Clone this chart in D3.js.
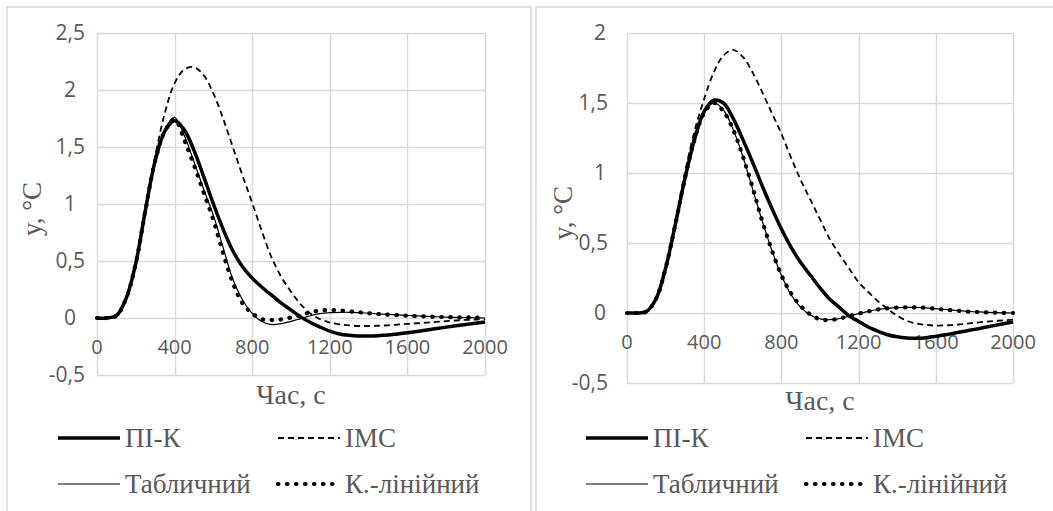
<!DOCTYPE html>
<html>
<head>
<meta charset="utf-8">
<script src="https://cdn.jsdelivr.net/npm/d3@7"></script>
<style>
  body { margin: 0; background: #fff; }
</style>
</head>
<body>
<div id="chart"></div>
<script>
// time, s
var time = [0, 50, 100, 150, 200, 250, 300, 350, 400, 450, 500, 550, 600, 650, 700, 750, 800,
    850, 900, 950, 1000, 1050, 1100, 1150, 1200, 1250, 1300, 1350, 1400, 1450, 1500, 1550, 1600,
    1650, 1700, 1750, 1800, 1850, 1900, 1950, 2000];

// left chart
var leftPIK = [0, 0, 0.02, 0.17, 0.48, 0.95, 1.38, 1.64, 1.73, 1.65, 1.47, 1.24, 1.0, 0.78, 0.59,
    0.45, 0.35, 0.27, 0.2, 0.13, 0.07, 0.01, -0.04, -0.08, -0.115, -0.14, -0.152, -0.158, -0.158,
    -0.155, -0.15, -0.14, -0.13, -0.118, -0.105, -0.093, -0.08, -0.068, -0.057, -0.046, -0.035];
var leftIMC = [0, 0, 0.02, 0.17, 0.48, 0.97, 1.42, 1.8, 2.06, 2.18, 2.2, 2.13, 1.97, 1.75, 1.5,
    1.25, 1.01, 0.76, 0.53, 0.36, 0.23, 0.12, 0.04, -0.01, -0.04, -0.055, -0.065, -0.07, -0.07,
    -0.068, -0.064, -0.058, -0.052, -0.046, -0.04, -0.034, -0.028, -0.022, -0.017, -0.013, -0.01];
var leftTab = [0, 0, 0.02, 0.17, 0.48, 0.95, 1.38, 1.66, 1.76, 1.6, 1.37, 1.13, 0.9, 0.62, 0.34,
    0.16, 0.04, -0.03, -0.058, -0.05, -0.03, -0.005, 0.02, 0.038, 0.047, 0.05, 0.05, 0.047, 0.042,
    0.037, 0.032, 0.027, 0.022, 0.018, 0.014, 0.011, 0.008, 0.006, 0.004, 0.002, 0.0];
var leftKLin = [0, 0, 0.02, 0.17, 0.48, 0.95, 1.38, 1.64, 1.74, 1.56, 1.34, 1.1, 0.86, 0.57, 0.31,
    0.13, 0.04, -0.01, -0.018, -0.012, 0.005, 0.025, 0.05, 0.065, 0.07, 0.066, 0.058, 0.05, 0.042,
    0.035, 0.029, 0.024, 0.02, 0.016, 0.013, 0.01, 0.008, 0.006, 0.005, 0.004, 0.003];

// right chart
var rightPIK = [0, 0, 0.01, 0.1, 0.32, 0.63, 0.96, 1.24, 1.44, 1.52, 1.5, 1.39, 1.24, 1.08, 0.91,
    0.75, 0.6, 0.47, 0.36, 0.27, 0.18, 0.1, 0.04, -0.02, -0.06, -0.1, -0.13, -0.155, -0.17, -0.178,
    -0.18, -0.176, -0.167, -0.156, -0.143, -0.13, -0.117, -0.104, -0.09, -0.077, -0.065];
var rightIMC = [0, 0, 0.01, 0.1, 0.32, 0.64, 1.0, 1.3, 1.53, 1.72, 1.84, 1.88, 1.83, 1.72, 1.58,
    1.43, 1.28, 1.11, 0.95, 0.81, 0.67, 0.53, 0.42, 0.32, 0.22, 0.15, 0.085, 0.03, -0.02, -0.055,
    -0.075, -0.085, -0.09, -0.088, -0.085, -0.078, -0.07, -0.063, -0.057, -0.052, -0.048];
var rightTab = [0, 0, 0.01, 0.1, 0.32, 0.63, 0.96, 1.24, 1.43, 1.5, 1.45, 1.31, 1.12, 0.89, 0.66,
    0.45, 0.27, 0.13, 0.04, -0.015, -0.042, -0.048, -0.04, -0.023, -0.005, 0.012, 0.025, 0.033,
    0.038, 0.04, 0.04, 0.037, 0.031, 0.025, 0.019, 0.013, 0.009, 0.006, 0.003, 0.001, 0];
var rightKLin = [0, 0, 0.01, 0.1, 0.32, 0.63, 0.96, 1.24, 1.43, 1.5, 1.44, 1.31, 1.12, 0.9, 0.66,
    0.45, 0.27, 0.14, 0.05, -0.01, -0.045, -0.05, -0.04, -0.022, -0.005, 0.012, 0.025, 0.033,
    0.038, 0.04, 0.04, 0.037, 0.03, 0.024, 0.018, 0.012, 0.008, 0.005, 0.003, 0.001, 0];

var xTicks = [0, 400, 800, 1200, 1600, 2000];
var leftYTicks = [-0.5, 0, 0.5, 1, 1.5, 2, 2.5];
var rightYTicks = [-0.5, 0, 0.5, 1, 1.5, 2];
var seriesNames = ['ПІ-К', 'IMC', 'Табличний', 'К.-лінійний'];

var sansFont = 'Open Sans, Noto Sans, sans-serif';
var serifFont = 'Liberation Serif, Times New Roman, Times, Tinos, Noto Serif, DejaVu Serif, FreeSerif, serif';
var textColor = '#595959';

var styles = [
    { width: 3.5, dash: null, cap: 'butt' },
    { width: 1.8, dash: '6,4', cap: 'butt' },
    { width: 1.2, dash: null, cap: 'butt' },
    { width: 4.2, dash: '0.5,8.5', cap: 'round' }
];

var svg = d3.select('#chart')
    .append('svg')
    .attr('width', 1053)
    .attr('height', 511);

var fmt = function(v) { return String(v).replace('.', ','); };

function drawChart(c) {
    var g = svg.append('g');

    // chart border
    g.append('rect')
        .attr('x', c.box[0])
        .attr('y', c.box[1])
        .attr('width', c.box[2])
        .attr('height', c.box[3])
        .attr('fill', 'none')
        .attr('stroke', '#d9d9d9')
        .attr('stroke-width', 1.5);

    var x = d3.scaleLinear().domain([0, 2000]).range([c.left, c.right]);
    var y = d3.scaleLinear().domain([-0.5, c.yMax]).range([c.bottom, c.top]);

    // grid
    g.selectAll('.hgrid')
        .data(c.yTicks)
        .enter()
        .append('line')
        .attr('x1', c.left).attr('x2', c.right)
        .attr('y1', function(d) { return Math.round(y(d)) + 0.5; })
        .attr('y2', function(d) { return Math.round(y(d)) + 0.5; })
        .attr('stroke', '#d9d9d9')
        .attr('stroke-width', 1.5);

    g.selectAll('.vgrid')
        .data(xTicks)
        .enter()
        .append('line')
        .attr('x1', function(d) { return Math.round(x(d)) + 0.5; })
        .attr('x2', function(d) { return Math.round(x(d)) + 0.5; })
        .attr('y1', c.top).attr('y2', c.bottom)
        .attr('stroke', '#d9d9d9')
        .attr('stroke-width', 1.5);

    // y tick labels
    g.selectAll('.ylab')
        .data(c.yTicks)
        .enter()
        .append('text')
        .style('font-family', sansFont)
        .style('font-size', '21px')
        .attr('fill', textColor)
        .attr('text-anchor', 'end')
        .attr('x', function(d) { return c.left - (Number.isInteger(d) ? c.intPad : c.decPad); })
        .attr('y', function(d) { return y(d) + 7; })
        .text(fmt);

    // x tick labels, at the zero line
    g.selectAll('.xlab')
        .data(xTicks)
        .enter()
        .append('text')
        .style('font-family', sansFont)
        .style('font-size', '20px')
        .attr('fill', textColor)
        .attr('text-anchor', 'middle')
        .attr('x', function(d) { return x(d); })
        .attr('y', y(0) + 36)
        .text(function(d) { return d; });

    // series
    var line = d3.line()
        .x(function(d, i) { return x(time[i]); })
        .y(function(d) { return y(d); })
        .curve(d3.curveCatmullRom.alpha(0.5));

    c.series.forEach(function(s, i) {
        var st = styles[i];
        g.append('path')
            .datum(s)
            .attr('d', line)
            .attr('fill', 'none')
            .attr('stroke', '#000')
            .attr('stroke-width', st.width)
            .attr('stroke-linecap', st.cap)
            .attr('stroke-dasharray', st.dash);
    });

    // axis titles
    g.append('text')
        .style('font-family', serifFont)
        .style('font-size', '28px')
        .attr('fill', textColor)
        .attr('text-anchor', 'middle')
        .attr('x', (c.left + c.right) / 2)
        .attr('y', c.xTitleY)
        .text('Час, с');

    g.append('text')
        .style('font-family', serifFont)
        .style('font-size', '27px')
        .attr('fill', textColor)
        .attr('text-anchor', 'middle')
        .attr('transform', 'translate(' + c.yTitleX + ',' + ((c.top + c.bottom) / 2 + 5) + ') rotate(-90)')
        .text('y, °C');

    // legend
    var leg = g.selectAll('.leg')
        .data(seriesNames)
        .enter()
        .append('g')
        .attr('transform', function(d, i) {
            return 'translate(' + c.legX[i % 2] + ',' + c.legY[Math.floor(i / 2)] + ')';
        });

    leg.append('line')
        .attr('x1', 0).attr('x2', 62)
        .attr('y1', 0).attr('y2', 0)
        .attr('stroke', '#000')
        .attr('stroke-width', function(d, i) { return styles[i].width; })
        .attr('stroke-linecap', function(d, i) { return styles[i].cap; })
        .attr('stroke-dasharray', function(d, i) { return styles[i].dash; });

    leg.append('text')
        .style('font-family', serifFont)
        .style('font-size', '27px')
        .attr('fill', textColor)
        .attr('x', 67)
        .attr('y', 9)
        .text(function(d) { return d; });
}

drawChart({
    box: [7, 7, 524, 600],
    left: 97, right: 485, top: 33, bottom: 375,
    yMax: 2.5, yTicks: leftYTicks,
    intPad: 21, decPad: 12,
    xTitleY: 404, yTitleX: 41,
    legX: [58, 278], legY: [438, 484],
    series: [leftPIK, leftIMC, leftTab, leftKLin]
});

drawChart({
    box: [536, 7, 600, 600],
    left: 627, right: 1013, top: 33, bottom: 383,
    yMax: 2, yTicks: rightYTicks,
    intPad: 21, decPad: 19,
    xTitleY: 410, yTitleX: 572,
    legX: [586, 806], legY: [438, 484],
    series: [rightPIK, rightIMC, rightTab, rightKLin]
});
</script>
</body>
</html>
